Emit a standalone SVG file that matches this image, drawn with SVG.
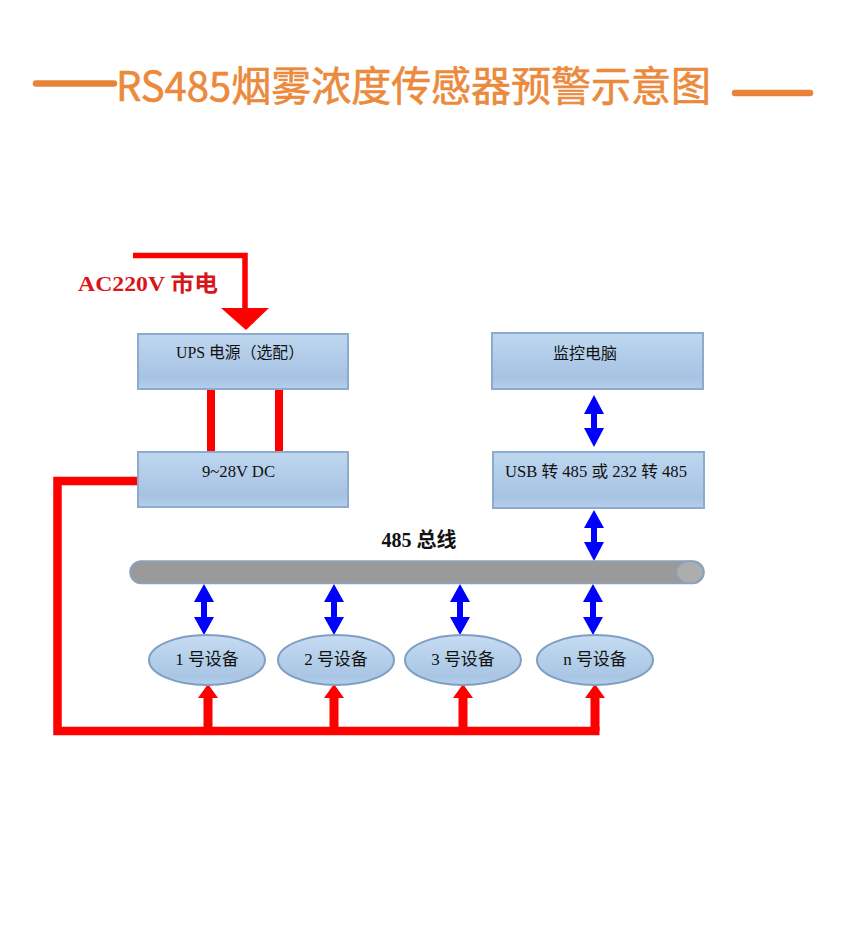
<svg xmlns="http://www.w3.org/2000/svg" width="859" height="945" viewBox="0 0 859 945">
<defs>
<linearGradient id="gBox" x1="0" y1="0" x2="0" y2="1">
<stop offset="0" stop-color="#BFD7F0"/>
<stop offset="0.8" stop-color="#A6C3E3"/>
<stop offset="1" stop-color="#B4CFEB"/>
</linearGradient>
<linearGradient id="gEll" x1="0" y1="0" x2="0" y2="1">
<stop offset="0" stop-color="#C6DCF2"/>
<stop offset="0.85" stop-color="#A8C5E4"/>
<stop offset="1" stop-color="#B6D0EB"/>
</linearGradient>
<style>
.box{fill:url(#gBox);stroke:#8DABCB;stroke-width:2}
.ell{fill:url(#gEll);stroke:#7F9FC2;stroke-width:2}
.t{font-family:"Liberation Serif","Noto Sans CJK SC",serif;font-size:16px;fill:#111;text-anchor:middle}
.et{font-family:"Liberation Serif","Noto Sans CJK SC",serif;font-size:17px;fill:#111;text-anchor:middle}
.red{fill:#FF0000}
.blue{fill:#0000FF}
.rl{fill:none;stroke:#FF0000;stroke-linejoin:miter;stroke-linecap:butt}
</style>
</defs>
<rect width="859" height="945" fill="#FFFFFF"/>

<g id="title">
<line x1="36" y1="83.5" x2="114" y2="83.5" stroke="#E8843A" stroke-width="6.5" stroke-linecap="round"/>
<line x1="735" y1="93" x2="810" y2="93" stroke="#E8843A" stroke-width="6.5" stroke-linecap="round"/>
<text x="116" y="101" font-family="'Noto Sans CJK SC','Noto Sans',sans-serif" font-size="41" fill="#EB8A3C" textLength="595" lengthAdjust="spacingAndGlyphs" stroke="#EB8A3C" stroke-width="0.6">RS485烟雾浓度传感器预警示意图</text>
</g>

<g id="connectors">
<!-- AC input -->
<polyline class="rl" stroke-width="5.5" points="133,255.5 245,255.5 245,310"/>
<polygon class="red" points="221,308 269,308 246,330"/>
<!-- UPS to DC -->
<rect class="red" x="207" y="389" width="8" height="62"/>
<rect class="red" x="275" y="389" width="8" height="62"/>
<!-- DC power distribution -->
<polyline class="rl" stroke-width="8.5" points="139,481 57.5,481 57.5,731 599.5,731"/>
<polygon class="red" points="208,684 218,698 212.5,698 212.5,731 203.5,731 203.5,698 198,698"/>
<polygon class="red" points="334,684 344,698 338.5,698 338.5,731 329.5,731 329.5,698 324,698"/>
<polygon class="red" points="463,684 473,698 467.5,698 467.5,731 458.5,731 458.5,698 453,698"/>
<polygon class="red" points="595,684 605,698 599.5,698 599.5,731 590.5,731 590.5,698 585,698"/>
<!-- blue double arrows -->
<polygon class="blue" points="594,395 604,414 597,414 597,428 604,428 594,447 584,428 591,428 591,414 584,414"/>
<polygon class="blue" points="594,510 604,528 597,528 597,542 604,542 594,561 584,542 591,542 591,528 584,528"/>
<polygon class="blue" points="204,584 214,602 207,602 207,617 214,617 204,635 194,617 201,617 201,602 194,602"/>
<polygon class="blue" points="334,584 344,602 337,602 337,617 344,617 334,635 324,617 331,617 331,602 324,602"/>
<polygon class="blue" points="460,584 470,602 463,602 463,617 470,617 460,635 450,617 457,617 457,602 450,602"/>
<polygon class="blue" points="593,584 603,602 596,602 596,617 603,617 593,635 583,617 590,617 590,602 583,602"/>
</g>

<g id="ac-label">
<text x="78" y="291" font-family="'Liberation Serif','Noto Sans CJK SC',serif" font-size="22" font-weight="bold" fill="#D9141A" textLength="140" lengthAdjust="spacingAndGlyphs">AC220V 市电</text>
</g>

<g id="ups">
<rect class="box" x="138" y="334" width="210" height="55"/>
<text class="t" x="240" y="358" textLength="128" lengthAdjust="spacingAndGlyphs">UPS 电源（选配）</text>
</g>

<g id="dc">
<rect class="box" x="138" y="452" width="210" height="55"/>
<text class="t" x="238.5" y="477" textLength="73" lengthAdjust="spacingAndGlyphs">9~28V DC</text>
</g>

<g id="pc">
<rect class="box" x="492" y="333" width="211" height="56"/>
<text class="t" x="585" y="359">监控电脑</text>
</g>

<g id="usb">
<rect class="box" x="493" y="452" width="211" height="56"/>
<text class="t" x="596" y="477" textLength="182" lengthAdjust="spacingAndGlyphs">USB 转 485 或 232 转 485</text>
</g>

<g id="bus">
<rect x="130" y="561" width="574" height="22.5" rx="11.25" ry="11.25" fill="#9A9A9A" stroke="#8AA2BC" stroke-width="1.5"/>
<ellipse cx="690" cy="572.25" rx="13.5" ry="11" fill="#ADADAD" stroke="#8AA2BC" stroke-width="1.5"/>
<text x="419" y="547" font-family="'Liberation Serif','Noto Sans CJK SC',serif" font-size="20" font-weight="bold" fill="#111" text-anchor="middle">485 总线</text>
</g>

<g id="dev1">
<ellipse class="ell" cx="207" cy="660" rx="58" ry="25"/>
<text class="et" x="207" y="665">1 号设备</text>
</g>
<g id="dev2">
<ellipse class="ell" cx="336" cy="660" rx="58" ry="25"/>
<text class="et" x="336" y="665">2 号设备</text>
</g>
<g id="dev3">
<ellipse class="ell" cx="463" cy="660" rx="58" ry="25"/>
<text class="et" x="463" y="665">3 号设备</text>
</g>
<g id="devn">
<ellipse class="ell" cx="595" cy="660" rx="58" ry="25"/>
<text class="et" x="595" y="665">n 号设备</text>
</g>
</svg>
